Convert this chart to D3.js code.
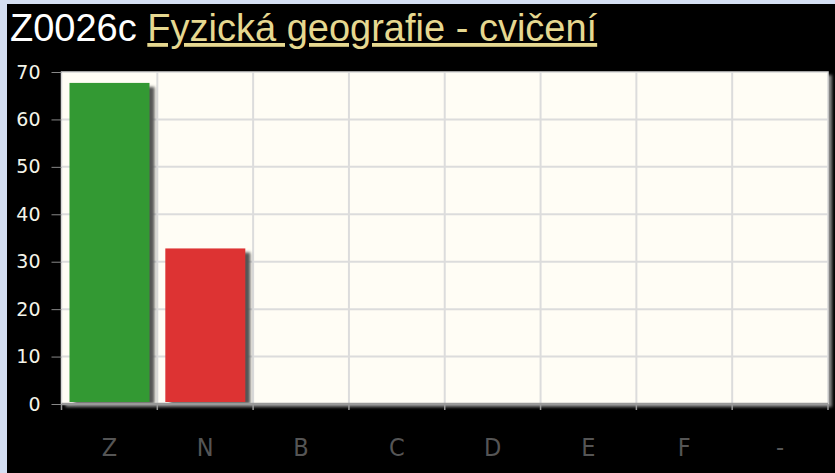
<!DOCTYPE html>
<html>
<head>
<meta charset="utf-8">
<script src="https://cdn.jsdelivr.net/npm/d3@7"></script>
<style>
  html, body { margin: 0; padding: 0; background: #d5dff3; }
  #panel { position: absolute; left: 7px; top: 4px; width: 828px; height: 469px; background: #000; }
  svg { position: absolute; left: 0; top: 0; }
</style>
</head>
<body>
<div id="panel"></div>
<svg id="chart"></svg>
<script>
var categories = ['Z', 'N', 'B', 'C', 'D', 'E', 'F', '-'];
var values = [67.7, 32.8, 0, 0, 0, 0, 0, 0];
var barColors = ['#339933', '#dd3333', '#3366cc', '#3366cc', '#3366cc', '#3366cc', '#3366cc', '#999999'];
var yTicks = [0, 10, 20, 30, 40, 50, 60, 70];

var width = 835, height = 473;
var margin = {top: 72, bottom: 69, left: 61.5, right: 7};
var w = width - margin.left - margin.right;
var h = height - margin.top - margin.bottom;

var svg = d3.select('#chart')
  .attr('width', width)
  .attr('height', height);

var defs = svg.append('defs');
var f = defs.append('filter').attr('id', 'blur').attr('x', '-20%').attr('y', '-20%').attr('width', '140%').attr('height', '140%');
f.append('feGaussianBlur').attr('stdDeviation', 1.8);

// title
var title = svg.append('text')
  .attr('x', 10)
  .attr('y', 41)
  .attr('font-family', 'Liberation Sans, Arial, sans-serif')
  .attr('font-size', 38)
  .attr('fill', '#fff');
title.append('tspan').text('Z0026c ');
title.append('tspan')
  .attr('fill', '#e6d890')
  .attr('text-decoration', 'underline')
  .text('Fyzická geografie - cvičení');

var g = svg.append('g')
  .attr('transform', 'translate(' + margin.left + ',' + margin.top + ')');

var x = d3.scaleBand()
  .domain(categories)
  .range([0, w]);

var y = d3.scaleLinear()
  .domain([0, 70])
  .range([h, 0]);

// plot shadow + background
g.append('rect')
  .attr('x', 4).attr('y', 3)
  .attr('width', w).attr('height', h)
  .attr('fill', '#888')
  .attr('filter', 'url(#blur)');
g.append('rect')
  .attr('width', w).attr('height', h)
  .attr('fill', '#fffdf5')
  .attr('stroke', '#d8d8d8')
  .attr('stroke-width', 1.5);

// grid
g.append('g')
  .selectAll('line')
  .data(yTicks.slice(1, -1))
  .enter().append('line')
    .attr('x1', 0).attr('x2', w)
    .attr('y1', d => y(d)).attr('y2', d => y(d))
    .attr('stroke', '#dcdcdc')
    .attr('stroke-width', 2);

g.append('g')
  .selectAll('line')
  .data(categories.slice(1))
  .enter().append('line')
    .attr('x1', d => x(d)).attr('x2', d => x(d))
    .attr('y1', 0).attr('y2', h)
    .attr('stroke', '#dcdcdc')
    .attr('stroke-width', 2);

// bars with shadow
var bars = g.append('g')
  .selectAll('g')
  .data(categories.map((c, i) => ({cat: c, value: values[i], color: barColors[i]})).filter(d => d.value > 0))
  .enter().append('g');

bars.append('rect')
  .attr('x', d => x(d.cat) + 13)
  .attr('y', d => y(d.value) + 4)
  .attr('width', 80)
  .attr('height', d => h - y(d.value) - 4)
  .attr('fill', '#555')
  .attr('filter', 'url(#blur)');

bars.append('rect')
  .attr('x', d => x(d.cat) + 8)
  .attr('y', d => y(d.value))
  .attr('width', 80)
  .attr('height', d => h - y(d.value) - 2)
  .attr('fill', d => d.color);

// y axis
var yAxis = g.append('g')
  .call(d3.axisLeft(y).tickValues(yTicks).tickSize(10).tickPadding(11).tickSizeOuter(0));
yAxis.select('.domain').remove();
yAxis.selectAll('line').attr('stroke', '#888');
yAxis.selectAll('text')
  .attr('fill', '#f4f4e8')
  .attr('font-family', 'DejaVu Sans, Verdana, sans-serif')
  .attr('font-size', 19);

// x axis
var xTicks = categories.map(c => x(c)).concat([w]);
g.append('line')
  .attr('x1', 0).attr('x2', w)
  .attr('y1', h).attr('y2', h)
  .attr('stroke', '#999')
  .attr('stroke-width', 2.5);
g.append('g')
  .selectAll('line')
  .data(xTicks)
  .enter().append('line')
    .attr('x1', d => d).attr('x2', d => d)
    .attr('y1', h).attr('y2', h + 6)
    .attr('stroke', '#999')
    .attr('stroke-width', 1.5);

g.append('g')
  .selectAll('text')
  .data(categories)
  .enter().append('text')
    .attr('x', d => x(d) + x.bandwidth() / 2)
    .attr('y', h + 52)
    .attr('text-anchor', 'middle')
    .attr('fill', '#555')
    .attr('font-family', 'Liberation Sans Narrow, DejaVu Sans Condensed, sans-serif')
    .attr('font-size', 25)
    .text(d => d);
</script>
</body>
</html>
